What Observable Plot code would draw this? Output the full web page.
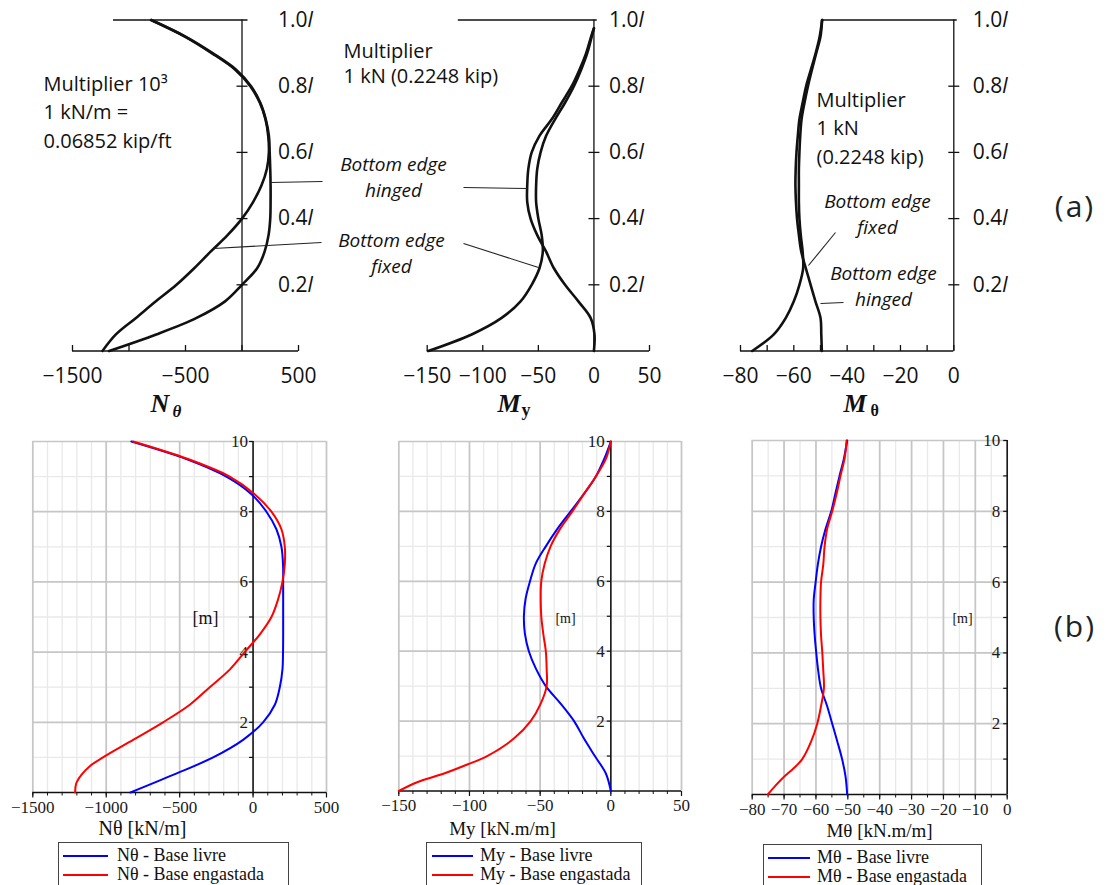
<!DOCTYPE html>
<html><head><meta charset="utf-8">
<script src="https://cdn.jsdelivr.net/npm/d3@7"></script>
<script src="https://cdn.jsdelivr.net/npm/@observablehq/plot@0.6"></script>
<style>
body{margin:0;background:#fff}
#root{position:relative;width:1107px;height:885px;overflow:hidden;background:#fff}
.lg{position:absolute;border:1.5px solid #444;background:#fff;font-family:"Liberation Serif",serif;font-size:18px;color:#111}
.lg .row{position:absolute;white-space:nowrap;line-height:18px}
.lg .sw{position:absolute;height:2.5px}
.tag{position:absolute;font-family:"Open Sans",sans-serif;font-size:30px;letter-spacing:2px;color:#222;transform:translate(-50%,-50%)}
</style></head>
<body><div id="root"></div>
<script>
// ---------------- DATA ----------------
// (a) top row: heights as fraction of l
const topH = [0,0.05,0.1,0.15,0.2,0.25,0.3,0.35,0.4,0.45,0.5,0.55,0.6,0.65,0.7,0.75,0.8,0.85,0.9,0.95,1.0];
const topNthFixed  = [-1235,-1116,-938,-762,-580,-423,-278,-128,0,98,172,220,238,232,208,158,74,-60,-268,-506,-804];
const topNthHinged = [-1176,-759,-402,-150,0,134,200,235,250,253,253,250,245,238,210,162,80,-52,-260,-500,-804];
const topMyH = [0,0.05,0.1,0.15,0.2,0.25,0.3,0.35,0.4,0.45,0.5,0.55,0.6,0.65,0.7,0.75,0.8,0.85,0.9,0.95,0.975];
const topMyFixed  = [-149,-110,-83,-66,-56,-49,-46,-47,-50,-52,-52,-51,-48,-43,-35,-26,-18,-11.5,-6,-2,0];
const topMyHinged = [0,0.5,-3,-14,-26,-36,-43,-51,-57,-60,-60,-59,-56,-49,-38,-29,-20,-13,-7,-2.5,0];
const topMthHinged = [-49.5,-49.7,-50,-51.9,-53.7,-55.5,-57.2,-58.1,-58.8,-59.2,-59.4,-59.3,-59,-58.5,-57.9,-56.7,-55.4,-53.6,-51.8,-50.3,-49.4];
const topMthFixed  = [-75.6,-67.5,-63,-60,-57.9,-56.5,-56.7,-57.4,-57.9,-58.1,-58.1,-58.1,-57.9,-57.6,-57.1,-56,-54.7,-53.2,-51.6,-50,-49.4];
const topYTicks = [0.2,0.4,0.6,0.8,1.0];
const topNthTicks = [-1500,-1000,-500,0,500];
const topNthLabels = [-1500,-500,500];
const topMyTicks = [-150,-100,-50,0,50];
const topMthTicks = [-80,-70,-60,-50,-40,-30,-20,-10,0];
const topMthLabels = [-80,-60,-40,-20,0];

// (b) bottom row: heights in m
const bH  = [0,0.5,1,1.5,2,2.5,3,3.5,4,4.5,5,5.5,6,6.5,7,7.5,8,8.5,9,9.5,10];
const bHr = [0,0.25,0.5,0.75,1,1.5,2,2.5,3,3.5,4,4.5,5,5.5,6,6.5,7,7.5,8,8.5,9,9.5,10];
const nthLivre = [-835,-545,-272,-68,68,148,182,200,204,205,205,205,205,204,193,159,91,-11,-182,-454,-829];
const nthEng   = [-1212,-1205,-1169,-1112,-1022,-817,-613,-431,-295,-159,-57,45,125,170,200,216,216,193,125,11,-159,-443,-817];
const myLivre  = [0,-3.5,-11.3,-19,-26,-35.5,-46,-53,-58,-60.8,-61.5,-60.3,-57.2,-53.2,-46,-37.8,-28.4,-19,-10.6,-4.7,0];
const myEng    = [-150,-137,-118,-102,-87.5,-68.6,-56.7,-49.6,-45.4,-45.4,-46,-47.8,-49.2,-49.6,-49.2,-46.8,-42.6,-35.9,-27.2,-19,-10.6,-3.5,0];
const mthLivre = [-50.2,-50.7,-51.8,-53.3,-54.9,-56.5,-58.4,-59.3,-59.9,-60.4,-60.7,-60.7,-60.1,-59.4,-58.4,-57,-55.2,-53.9,-52.6,-51.2,-50.2];
const mthEng   = [-75.1,-72.7,-70,-66.9,-64.3,-61.5,-59.6,-58.4,-57.5,-57.7,-58,-58.4,-58.6,-58.6,-58.4,-57.7,-57.3,-56.5,-54.9,-53.5,-52.3,-51,-50.4];
const bMajorY = [2,4,6,8,10];
const bMinorY = [1,3,5,7,9];
const bAllY = [1,2,3,4,5,6,7,8,9,10];
const nthMajorX = [-1500,-1000,-500,0,500];
const nthMinorX = d3.range(-1500,501,100);
const myMajorX = [-150,-100,-50,0,50];
const myMinorX = d3.range(-150,51,10);
const mthMajorX = [-80,-70,-60,-50,-40,-30,-20,-10,0];
const mthMinorX = d3.range(-80,1,5);
const legendNth = ["Nθ - Base livre","Nθ - Base engastada"];
const legendMy  = ["My - Base livre","My - Base engastada"];
const legendMth = ["Mθ - Base livre","Mθ - Base engastada"];

// ---------------- HELPERS ----------------
const root = document.getElementById("root");
const zip = (h, v) => h.map((y, i) => ({h: y, v: v[i]}));
const minus = d => d < 0 ? "\u2212" + Math.abs(d) : String(d);
const rad = s => Math.sqrt(s / Math.PI);
const symUp = {draw(c, s){const r = rad(s); c.moveTo(0,0); c.lineTo(0,-r);}};
const symDown = {draw(c, s){const r = rad(s); c.moveTo(0,0); c.lineTo(0,r);}};
const symCross = {draw(c, s){const r = rad(s); c.moveTo(-r,0); c.lineTo(r,0);}};
const symLeft = {draw(c, s){const r = rad(s); c.moveTo(-r,0); c.lineTo(0,0);}};

function invX(cfg, px){const a = cfg.area; return cfg.xd[0] + (px - a[0]) / (a[1] - a[0]) * (cfg.xd[1] - cfg.xd[0]);}
function invY(cfg, py){const a = cfg.area; return cfg.yd[0] + (a[3] - py) / (a[3] - a[2]) * (cfg.yd[1] - cfg.yd[0]);}
// text whose first line's baseline is at (px, py)
function ann(cfg, px, py, text, o = {}){
  const fs = o.fontSize || 20, lh = o.lineHeight || 1;
  return Plot.text([0], {x: () => invX(cfg, px), y: () => invY(cfg, py), text: () => text,
    textAnchor: "start", lineAnchor: "top", dy: -0.71 * lh * fs, fill: "#111", ...o});
}
function lead(cfg, x1, y1, x2, y2){
  return Plot.link([0], {x1: () => invX(cfg, x1), y1: () => invY(cfg, y1), x2: () => invX(cfg, x2), y2: () => invY(cfg, y2),
    stroke: "#222", strokeWidth: 1.1});
}
function panel(cfg, marks, font){
  const a = cfg.area;
  const svg = Plot.plot({
    width: cfg.W, height: cfg.H,
    marginLeft: a[0] - cfg.left, marginRight: cfg.left + cfg.W - a[1],
    marginTop: a[2] - cfg.top, marginBottom: cfg.top + cfg.H - a[3],
    x: {domain: cfg.xd}, y: {domain: cfg.yd, axis: null},
    style: {position: "absolute", left: cfg.left + "px", top: cfg.top + "px", background: "transparent",
      overflow: "visible", fontFamily: font.family, fontSize: font.size + "px", color: "#111", maxWidth: "none"},
    marks
  });
  svg.querySelectorAll("text").forEach(t => {
    const m = t.textContent.match(/^(\d\.\d)l$/);
    if (m) {
      t.textContent = m[1];
      const ts = document.createElementNS("http://www.w3.org/2000/svg", "tspan");
      ts.setAttribute("font-style", "italic"); ts.textContent = "l"; t.append(ts);
    }
  });
  root.append(svg);
  return svg;
}
const topFont = {family: "'Open Sans', sans-serif", size: 21};
const botFont = {family: "'Liberation Serif', serif", size: 17};
const serifB = "'Liberation Serif', serif";
const annFont = (lh) => ({fontSize: 20, lineHeight: lh});
const annIt = (lh, fs = 20) => ({fontSize: fs, fontStyle: "italic", textAnchor: "middle", lineHeight: lh});

function topFrame(cfg, ticks, labels, topLine, labelDx){
  return [
    Plot.ruleY([0], {stroke: "#111", strokeWidth: 1.3}),
    Plot.ruleX([0], {stroke: "#111", strokeWidth: 1.3}),
    Plot.ruleY([1], {x1: topLine[0], x2: topLine[1], stroke: "#111", strokeWidth: 1.3}),
    Plot.dot(ticks, {x: d => d, y: () => 0, symbol: symUp, r: 6, stroke: "#111", strokeWidth: 1.3, fill: "none"}),
    Plot.dot(topYTicks.slice(0, 4), {x: () => 0, y: d => d, symbol: symCross, r: 5.5, stroke: "#111", strokeWidth: 1.3, fill: "none"}),
    Plot.axisX({ticks: labels, tickSize: 0, tickPadding: 17, tickFormat: minus, label: null, fill: "#111"}),
    Plot.text(topYTicks, {x: () => 0, y: d => d, text: d => d.toFixed(1) + "l", textAnchor: "start", lineAnchor: "middle", dx: labelDx, fill: "#111"})
  ];
}
const topLine = (data) => Plot.line(data, {x: "v", y: "h", curve: "catmull-rom", stroke: "#111", strokeWidth: 2.6});

// ---------------- (a) PANELS ----------------
const P1 = {left: 0, top: 0, W: 340, H: 425, area: [72, 298, 19.5, 350.5], xd: [-1500, 500], yd: [0, 1]};
panel(P1, [
  ...topFrame(P1, topNthTicks, topNthLabels, [-1137, 53], 36),
  topLine(zip(topH, topNthFixed)),
  topLine(zip(topH, topNthHinged)),
  ann(P1, 43, 90, "Multiplier 10³\n1 kN/m =\n0.06852 kip/ft", annFont(1.45)),
  lead(P1, 270, 182, 322, 181),
  lead(P1, 213, 248, 321, 242),
  ann(P1, 150, 411, "N", {fontFamily: serifB, fontSize: 26, fontWeight: "bold", fontStyle: "italic"}),
  ann(P1, 172, 416, "θ", {fontFamily: serifB, fontSize: 17, fontWeight: "bold", fontStyle: "italic"})
], topFont);

const P2 = {left: 330, top: 0, W: 340, H: 425, area: [426.7, 649, 19.5, 350.5], xd: [-150, 50], yd: [0, 1]};
panel(P2, [
  ...topFrame(P2, topMyTicks, topMyTicks, [-122, 3], 15),
  topLine(zip(topMyH, topMyFixed)),
  topLine(zip(topMyH, topMyHinged)),
  ann(P2, 343, 57, "Multiplier\n1 kN (0.2248 kip)", annFont(1.3)),
  ann(P2, 393, 170, "Bottom edge\nhinged", annIt(1.37, 19)),
  ann(P2, 391, 246, "Bottom edge\nfixed", annIt(1.37, 19)),
  lead(P2, 463, 187, 527, 188),
  lead(P2, 463, 243, 538, 267),
  ann(P2, 497, 411, "M", {fontFamily: serifB, fontSize: 26, fontWeight: "bold", fontStyle: "italic"}),
  ann(P2, 521, 415, "y", {fontFamily: serifB, fontSize: 18, fontWeight: "bold"})
], topFont);

const P3 = {left: 680, top: 0, W: 340, H: 425, area: [740, 953.3, 19.5, 350.5], xd: [-80, 0], yd: [0, 1]};
panel(P3, [
  ...topFrame(P3, topMthTicks, topMthLabels, [-49.4, 1.3], 19),
  topLine(zip(topH, topMthFixed)),
  topLine(zip(topH, topMthHinged)),
  ann(P3, 816, 106, "Multiplier\n1 kN\n(0.2248 kip)", annFont(1.45)),
  ann(P3, 877, 207, "Bottom edge\nfixed", annIt(1.37, 19)),
  ann(P3, 883, 279, "Bottom edge\nhinged", annIt(1.37, 19)),
  lead(P3, 835, 232, 808, 265),
  lead(P3, 843, 302, 820, 303),
  ann(P3, 843, 411, "M", {fontFamily: serifB, fontSize: 26, fontWeight: "bold", fontStyle: "italic"}),
  ann(P3, 870, 415, "θ", {fontFamily: serifB, fontSize: 16, fontWeight: "bold"})
], topFont);

// ---------------- (b) PANELS ----------------
function botMarks(cfg, majorX, minorX, livre, eng, labelDx, xLabel, xLabelPos, xLabelSize, mPos, mSize){
  return [
    Plot.ruleX(minorX, {stroke: "#e9e9e9", strokeWidth: 1.3}),
    Plot.ruleY(bMinorY, {stroke: "#e9e9e9", strokeWidth: 1.3}),
    Plot.ruleX(majorX, {stroke: "#c6c6c6", strokeWidth: 1.7}),
    Plot.ruleY(bMajorY, {stroke: "#c6c6c6", strokeWidth: 1.7}),
    Plot.ruleY([0], {stroke: "#111", strokeWidth: 1.5}),
    Plot.ruleX([0], {stroke: "#111", strokeWidth: 1.5}),
    Plot.dot(minorX, {x: d => d, y: () => 0, symbol: symDown, r: 3, stroke: "#111", strokeWidth: 1, fill: "none"}),
    Plot.dot(majorX, {x: d => d, y: () => 0, symbol: symDown, r: 5, stroke: "#111", strokeWidth: 1.2, fill: "none"}),
    Plot.dot(bAllY, {x: () => 0, y: d => d, symbol: symLeft, r: 4, stroke: "#111", strokeWidth: 1.2, fill: "none"}),
    Plot.axisX({ticks: majorX, tickSize: 0, tickPadding: 8, tickFormat: minus, label: null, fill: "#1a1a1a"}),
    Plot.text(bMajorY, {x: () => 0, y: d => d, text: d => String(d), textAnchor: "end", lineAnchor: "middle", dx: labelDx, fill: "#1a1a1a"}),
    Plot.line(zip(bH, livre), {x: "v", y: "h", curve: "catmull-rom", stroke: "#0000ff", strokeWidth: 2}),
    Plot.line(zip(bHr, eng), {x: "v", y: "h", curve: "catmull-rom", stroke: "#ff0000", strokeWidth: 2}),
    Plot.text([0], {x: () => invX(cfg, mPos[0]), y: () => invY(cfg, mPos[1]), text: () => "[m]", textAnchor: "middle", lineAnchor: "middle", fontSize: mSize, fill: "#111"}),
    Plot.text([0], {x: () => invX(cfg, xLabelPos[0]), y: () => invY(cfg, xLabelPos[1]), text: () => xLabel, textAnchor: "middle", lineAnchor: "middle", fontSize: xLabelSize, fill: "#111"})
  ];
}
const B1 = {left: 0, top: 430, W: 340, H: 455, area: [32.3, 326, 441, 792], xd: [-1500, 500], yd: [0, 10]};
panel(B1, botMarks(B1, nthMajorX, nthMinorX, nthLivre, nthEng, -5, "Nθ [kN/m]", [142, 828], 20, [205, 618], 18), botFont);
const B2 = {left: 370, top: 430, W: 320, H: 455, area: [398.3, 681, 441, 790.5], xd: [-150, 50], yd: [0, 10]};
panel(B2, botMarks(B2, myMajorX, myMinorX, myLivre, myEng, -6, "My [kN.m/m]", [502, 828], 19, [565, 618], 14), botFont);
const B3 = {left: 720, top: 430, W: 300, H: 455, area: [751.7, 1006.7, 440, 794], xd: [-80, 0], yd: [0, 10]};
panel(B3, botMarks(B3, mthMajorX, mthMinorX, mthLivre, mthEng, -7, "Mθ [kN.m/m]", [879, 830], 19, [962, 618], 14), botFont);

// ---------------- LEGENDS & TAGS ----------------
function legend(left, top, width, swL, swR, textL, labels){
  const box = document.createElement("div");
  box.className = "lg";
  Object.assign(box.style, {left: left + "px", top: top + "px", width: width + "px", height: "60px"});
  const colors = ["#0000ff", "#ff0000"];
  labels.forEach((lab, i) => {
    const cy = 13 + i * 19;
    const sw = document.createElement("div");
    sw.className = "sw";
    Object.assign(sw.style, {left: swL + "px", width: (swR - swL) + "px", top: (cy - 1.5) + "px", background: colors[i]});
    const tx = document.createElement("div");
    tx.className = "row";
    Object.assign(tx.style, {left: textL + "px", top: (cy - 10) + "px"});
    tx.textContent = lab;
    box.append(sw, tx);
  });
  root.append(box);
}
legend(58, 842, 229, 4, 49, 58, legendNth);
legend(426, 842, 214, 5, 46, 53, legendMy);
legend(763, 844, 217, 4, 46, 53, legendMth);

for (const [t, x, y] of [["(a)", 1075, 205], ["(b)", 1075, 625]]) {
  const d = document.createElement("div");
  d.className = "tag"; d.textContent = t;
  Object.assign(d.style, {left: x + "px", top: y + "px"});
  root.append(d);
}
</script>
</body></html>
